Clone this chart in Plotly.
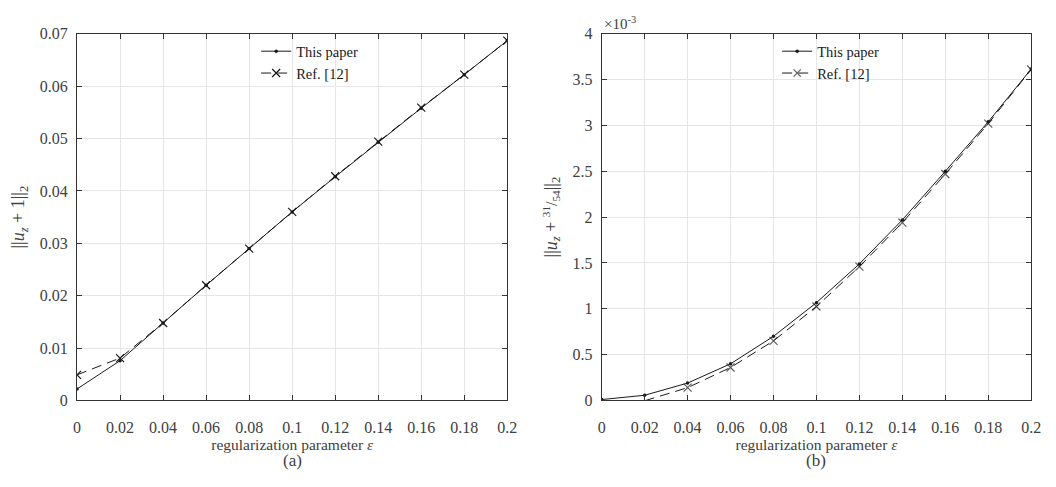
import plotly.graph_objects as go

# regularization parameter values
eps = [0.0, 0.02, 0.04, 0.06, 0.08, 0.10, 0.12, 0.14, 0.16, 0.18, 0.20]

# (a) ||u_z + 1||_2
a_this_paper = [0.0022, 0.0076, 0.0148, 0.0220, 0.0290, 0.0360, 0.0427, 0.0493, 0.0558, 0.0622, 0.0687]
a_ref12 = [0.0049, 0.0081, 0.0148, 0.0220, 0.0290, 0.0360, 0.0428, 0.0494, 0.0559, 0.0622, 0.0687]

# (b) ||u_z + 31/54||_2
b_eps_ref = [0.02, 0.04, 0.06, 0.08, 0.10, 0.12, 0.14, 0.16, 0.18, 0.20]
b_this_paper = [0.010e-3, 0.057e-3, 0.190e-3, 0.400e-3, 0.700e-3, 1.067e-3, 1.490e-3, 1.970e-3, 2.500e-3, 3.040e-3, 3.615e-3]
b_ref12 = [-0.003e-3, 0.140e-3, 0.360e-3, 0.650e-3, 1.025e-3, 1.460e-3, 1.940e-3, 2.470e-3, 3.020e-3, 3.610e-3]

x_ticks = [0, 0.02, 0.04, 0.06, 0.08, 0.1, 0.12, 0.14, 0.16, 0.18, 0.2]
x_ticktext = ["0", "0.02", "0.04", "0.06", "0.08", "0.1", "0.12", "0.14", "0.16", "0.18", "0.2"]
a_yticks = [0, 0.01, 0.02, 0.03, 0.04, 0.05, 0.06, 0.07]
a_yticktext = ["0", "0.01", "0.02", "0.03", "0.04", "0.05", "0.06", "0.07"]
b_yticks = [0, 0.5e-3, 1e-3, 1.5e-3, 2e-3, 2.5e-3, 3e-3, 3.5e-3, 4e-3]
b_yticktext = ["0", "0.5", "1", "1.5", "2", "2.5", "3", "3.5", "4"]

FONT = "Liberation Serif, Times New Roman, serif"
INK = "#1a1a1a"
TXT = "#404040"
AXC = "#333333"
GRID = "#e6e6e6"

fig = go.Figure()

solid = dict(color=INK, width=1)
dashed = dict(color=INK, width=1, dash="10px,6px")
dot_marker = dict(symbol="circle", size=3.5, color=INK)
x_marker = dict(symbol="x-thin", size=8, line=dict(color=INK, width=1.2), color=INK)
# points below the axis floor are clipped, so their markers are hidden
b_ref_marker = dict(x_marker, size=[8 if v >= 0 else 0 for v in b_ref12])

# panel (a)
fig.add_trace(go.Scatter(x=eps, y=a_this_paper, mode="lines+markers", name="This paper",
                         line=solid, marker=dot_marker, xaxis="x", yaxis="y", legend="legend"))
fig.add_trace(go.Scatter(x=eps, y=a_ref12, mode="lines+markers", name="Ref. [12]",
                         line=dashed, marker=x_marker, xaxis="x", yaxis="y", legend="legend"))
# panel (b)
fig.add_trace(go.Scatter(x=eps, y=b_this_paper, mode="lines+markers", name="This paper",
                         line=solid, marker=dot_marker, xaxis="x2", yaxis="y2", legend="legend2"))
fig.add_trace(go.Scatter(x=b_eps_ref, y=b_ref12, mode="lines+markers", name="Ref. [12]",
                         line=dashed, marker=b_ref_marker, xaxis="x2", yaxis="y2", legend="legend2",
                         cliponaxis=True))

common_axis = dict(
    showline=True, mirror="ticks", linecolor=AXC, linewidth=1,
    ticks="inside", ticklen=5, tickcolor=AXC, tickwidth=1,
    showgrid=True, gridcolor=GRID, gridwidth=1, zeroline=False,
    tickfont=dict(family=FONT, size=16, color=TXT),
)
x_axis = dict(common_axis, ticklabelstandoff=12)
y_axis = dict(common_axis, ticklabelstandoff=5)

x_title = dict(text="regularization parameter <i>ε</i>", font=dict(family=FONT, size=15.5, color=TXT), standoff=2)

y2_title = ("||<i>u<sub>z</sub></i> + <span style='font-size:16px'><sup>31</sup>/<sub>54</sub></span>"
            "||<sub>2</sub>")

fig.update_layout(
    width=1056, height=487,
    margin=dict(l=0, r=0, t=0, b=0),
    paper_bgcolor="white", plot_bgcolor="white",
    font=dict(family=FONT, color=TXT),
    xaxis=dict(domain=[0.0701, 0.4830], range=[0, 0.2], tickvals=x_ticks, ticktext=x_ticktext,
               title=x_title, anchor="y", **x_axis),
    yaxis=dict(domain=[0.1649, 0.9452], range=[0, 0.07], tickvals=a_yticks, ticktext=a_yticktext,
               title=dict(text="||<i>u<sub>z</sub></i> + 1||<sub>2</sub>", font=dict(family=FONT, size=18, color=TXT), standoff=10),
               anchor="x", **y_axis),
    xaxis2=dict(domain=[0.5736, 0.9858], range=[0, 0.2], tickvals=x_ticks, ticktext=x_ticktext,
                title=x_title, anchor="y2", **x_axis),
    yaxis2=dict(domain=[0.1649, 0.9452], range=[0, 4e-3], tickvals=b_yticks, ticktext=b_yticktext,
                title=dict(text=y2_title, font=dict(family=FONT, size=18, color=TXT), standoff=10),
                anchor="x2", **y_axis),
    legend=dict(x=0.242, y=0.942, xanchor="left", yanchor="top", bgcolor="rgba(0,0,0,0)",
                font=dict(family=FONT, size=14.5, color=INK), tracegroupgap=0, itemwidth=30),
    legend2=dict(x=0.742, y=0.942, xanchor="left", yanchor="top", bgcolor="rgba(0,0,0,0)",
                 font=dict(family=FONT, size=14.5, color=INK), tracegroupgap=0, itemwidth=30),
    annotations=[
        dict(text="(a)", x=292 / 1056, y=1 - 469 / 487, xref="paper", yref="paper", showarrow=False,
             xanchor="center", yanchor="middle", font=dict(family=FONT, size=17, color=TXT)),
        dict(text="(b)", x=823 / 1056, y=1 - 469 / 487, xref="paper", yref="paper", showarrow=False,
             xanchor="center", yanchor="middle", font=dict(family=FONT, size=17, color=TXT)),
        dict(text="×10<sup>-3</sup>", x=0.5736, y=0.9452, xref="paper", yref="paper", showarrow=False,
             xanchor="left", yanchor="bottom", font=dict(family=FONT, size=15, color=TXT)),
    ],
)

fig.write_html("out.html")
